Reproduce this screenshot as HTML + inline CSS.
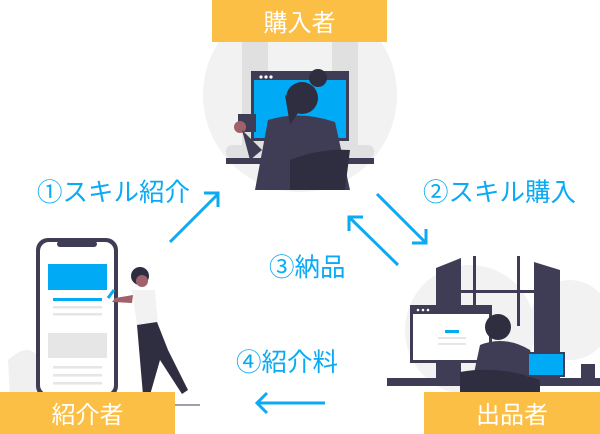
<!DOCTYPE html>
<html><head><meta charset="utf-8"><style>
html,body{margin:0;padding:0;background:#fff;}
svg{display:block;}
text{font-family:"Liberation Sans","Noto Sans CJK JP",sans-serif;}
</style></head><body>
<svg width="600" height="434" viewBox="0 0 600 434" xmlns="http://www.w3.org/2000/svg">
<circle cx="300" cy="95" r="97" fill="#f2f2f2"/>
<rect x="242" y="40" width="116" height="115" fill="#e0e0e0"/>
<rect x="268" y="40" width="64" height="50" fill="#f2f2f2"/>
<rect x="251" y="71" width="98" height="70" fill="#3f3d56"/>
<rect x="254" y="80" width="92" height="58" fill="#00aaf5"/>
<circle cx="261" cy="77" r="1.6" fill="#fff"/><circle cx="266" cy="77" r="1.6" fill="#fff"/><circle cx="271" cy="77" r="1.6" fill="#fff"/>
<rect x="226" y="145" width="148" height="14" rx="6" fill="#e0e0e0"/>
<rect x="226" y="158" width="148" height="6" fill="#3f3d56"/>
<path d="M268 120 Q300 110 335 122 L350 190 L255 190 Z" fill="#3f3d56"/>
<path d="M290 160 Q320 148 350 150 L345 190 L290 190 Z" fill="#2f2e41"/>
<circle cx="302" cy="98" r="16" fill="#2f2e41"/>
<circle cx="318" cy="78" r="9" fill="#2f2e41"/>
<path d="M285 95 L290 125 L300 110 Z" fill="#2f2e41"/>
<rect x="238" y="114" width="18" height="18" fill="#3f3d56"/>
<circle cx="240" cy="127" r="6" fill="#a0616a"/>
<path d="M242 130 L250 160 L262 150 Z" fill="#3f3d56"/>
<circle cx="470" cy="330" r="65" fill="#f2f2f2"/>
<circle cx="570" cy="320" r="40" fill="#f2f2f2"/>
<path d="M436 268 L461 258 L461 380 L436 380 Z" fill="#3f3d56"/>
<path d="M534 262 L560 270 L560 380 L534 380 Z" fill="#3f3d56"/>
<rect x="473" y="256" width="3" height="70" fill="#3f3d56"/>
<rect x="517" y="256" width="3" height="70" fill="#3f3d56"/>
<rect x="461" y="290" width="73" height="3" fill="#3f3d56"/>
<rect x="410" y="305" width="82" height="58" fill="#3f3d56"/>
<rect x="413" y="314" width="76" height="46" fill="#fff"/>
<circle cx="418" cy="310" r="1.3" fill="#fff"/><circle cx="423" cy="310" r="1.3" fill="#fff"/><circle cx="428" cy="310" r="1.3" fill="#fff"/>
<rect x="445" y="330" width="14" height="3" fill="#00aaf5"/>
<rect x="438" y="337" width="28" height="2" fill="#e6e6e6"/><rect x="438" y="343" width="28" height="2" fill="#e6e6e6"/>
<rect x="387" y="378" width="213" height="8" fill="#3f3d56"/>
<path d="M480 345 Q505 335 530 350 L540 392 L470 392 Z" fill="#3f3d56"/>
<path d="M460 372 Q500 365 540 380 L540 392 L460 392 Z" fill="#2f2e41"/>
<circle cx="498" cy="327" r="13" fill="#2f2e41"/>
<rect x="527" y="352" width="38" height="25" fill="#3f3d56"/>
<rect x="529" y="354" width="34" height="21" fill="#00aaf5"/>
<rect x="581" y="364" width="14" height="15" fill="#3f3d56"/>
<path d="M8 360 Q30 340 40 360 L40 395 L10 395 Z" fill="#f0f0f0"/>
<rect x="36" y="238" width="82" height="160" rx="12" fill="#3f3d56"/>
<rect x="40" y="242" width="74" height="152" rx="9" fill="#fff"/>
<rect x="57" y="241" width="40" height="6" rx="3" fill="#3f3d56"/>
<rect x="48" y="264" width="59" height="26" fill="#00aaf5"/>
<rect x="53" y="298" width="49" height="3" fill="#00aaf5"/>
<rect x="53" y="306" width="49" height="2.5" fill="#e6e6e6"/><rect x="53" y="313" width="49" height="2.5" fill="#e6e6e6"/>
<rect x="48" y="333" width="59" height="25" fill="#e6e6e6"/>
<rect x="53" y="366" width="49" height="2.5" fill="#e6e6e6"/><rect x="53" y="374" width="49" height="2.5" fill="#e6e6e6"/><rect x="53" y="382" width="49" height="2.5" fill="#e6e6e6"/>
<circle cx="140" cy="276" r="9" fill="#2f2e41"/>
<circle cx="142" cy="281" r="6" fill="#a0616a"/>
<path d="M132 290 L155 290 L158 325 L137 325 Z" fill="#f2f2f2"/>
<path d="M137 325 L157 322 L168 350 L188 390 L182 394 L160 360 L150 395 L143 395 Z" fill="#2f2e41"/>
<path d="M133 295 L115 298 L112 302 L132 303 Z" fill="#a0616a"/>
<line x1="108" y1="298" x2="114" y2="290" stroke="#00aaf5" stroke-width="3"/>
<line x1="148" y1="405" x2="200" y2="405" stroke="#3f3d56" stroke-width="1"/>
<rect x="212" y="0" width="175" height="42" fill="#fbbf45"/>
<text x="299.5" y="31" font-size="24" fill="#fff" text-anchor="middle">購入者</text>
<rect x="0" y="392" width="175" height="42" fill="#fbbf45"/>
<text x="87.5" y="423" font-size="24" fill="#fff" text-anchor="middle">紹介者</text>
<rect x="424" y="392" width="176" height="42" fill="#fbbf45"/>
<text x="512" y="423" font-size="24" fill="#fff" text-anchor="middle">出品者</text>
<g fill="#0aaaf5" font-size="25.5">
<text x="37" y="201">①スキル紹介</text>
<text x="423" y="201">②スキル購入</text>
<text x="269" y="276">③納品</text>
<text x="236" y="371">④紹介料</text>
</g>
<g stroke="#0aaaf5" stroke-width="3" fill="none" stroke-linecap="butt">
<line x1="170" y1="242" x2="217" y2="195"/>
<polyline points="204,193 218,193 218,207"/>
<line x1="377" y1="194" x2="426" y2="243"/>
<polyline points="426,229 426,243 412,243"/>
<line x1="398" y1="265" x2="349" y2="217"/>
<polyline points="349,231 349,217 363,217"/>
<line x1="325" y1="403" x2="257" y2="403"/>
<polyline points="267,393 257,403 267,413"/>
</g>
</svg>
</body></html>
